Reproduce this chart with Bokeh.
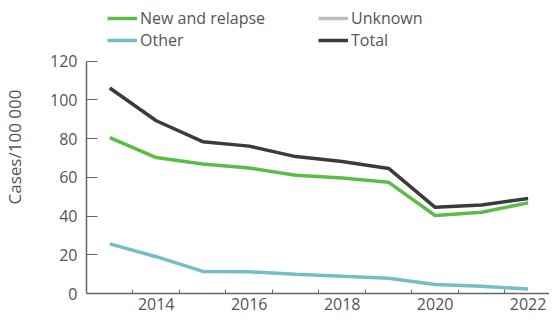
from bokeh.plotting import figure
from bokeh.models import Range1d, FixedTicker, Legend, LegendItem
from bokeh.embed import file_html
from bokeh.resources import INLINE

years = [2013, 2014, 2015, 2016, 2017, 2018, 2019, 2020, 2021, 2022]
new_relapse = [80.5, 70.2, 66.9, 64.8, 61.1, 59.7, 57.4, 40.3, 42.0, 46.8]
other = [25.6, 19.0, 11.4, 11.2, 10.0, 8.9, 7.9, 4.6, 3.7, 2.3]
unknown = [float("nan")] * 10  # not visible in the chart
total = [106.1, 89.2, 78.4, 76.1, 70.7, 68.2, 64.6, 44.5, 45.7, 49.1]
x_tick_labels = [2014, 2016, 2018, 2020, 2022]
y_ticks = [0, 20, 40, 60, 80, 100, 120]

FONT = "Open Sans"
TXT = "#555555"

p = figure(width=549, height=312, output_backend="svg", toolbar_location=None,
           x_range=Range1d(2012.5, 2022.46), y_range=Range1d(0, 151.3),
           min_border_left=0, min_border_right=0, min_border_top=0, min_border_bottom=0)
p.outline_line_color = None
p.grid.visible = False

c_green = "#5cbd46"
c_teal = "#72bfc4"
c_gray = "#bdbec0"
c_dark = "#3b3b3b"

r_new = p.line(years, new_relapse, line_color=c_green, line_width=3.5)
r_unk = p.line(years, unknown, line_color=c_gray, line_width=3.5)
r_oth = p.line(years, other, line_color=c_teal, line_width=3.5)
r_tot = p.line(years, total, line_color=c_dark, line_width=3.5)

# x axis
xa = p.xaxis[0]
xa.ticker = FixedTicker(ticks=x_tick_labels, minor_ticks=[y + 0.5 for y in years[:-1]])
xa.major_tick_in = 0
xa.major_tick_out = 0
xa.minor_tick_in = 4
xa.minor_tick_out = 0
xa.minor_tick_line_color = "#666666"
xa.axis_line_color = "#666666"
xa.axis_line_width = 1.5
xa.major_label_text_font = FONT
xa.major_label_text_font_size = "16px"
xa.major_label_text_color = TXT
xa.major_label_standoff = 4

ya = p.yaxis[0]
ya.ticker = FixedTicker(ticks=y_ticks)
ya.bounds = (0, 120)
ya.major_tick_in = 11
ya.major_tick_out = 0
ya.minor_tick_line_color = None
ya.major_tick_line_color = "#666666"
ya.axis_line_color = "#666666"
ya.axis_line_width = 1.5
ya.major_label_text_font = FONT
ya.major_label_text_font_size = "16px"
ya.major_label_text_color = TXT
ya.major_label_standoff = 9
ya.axis_label = "Cases/100 000"
ya.axis_label_text_font = FONT
ya.axis_label_text_font_size = "17px"
ya.axis_label_text_font_style = "normal"
ya.axis_label_text_color = TXT
ya.axis_label_standoff = 21

legend = Legend(items=[
    LegendItem(label="New and relapse", renderers=[r_new]),
    LegendItem(label="Other", renderers=[r_oth]),
    LegendItem(label="Unknown", renderers=[r_unk]),
    LegendItem(label="Total", renderers=[r_tot]),
], ncols=2)
legend.label_text_font = FONT
legend.label_text_font_size = "16px"
legend.label_text_color = TXT
legend.glyph_width = 30
legend.glyph_height = 18
legend.label_height = 18
legend.label_standoff = 3
legend.label_width = 178
legend.spacing = 0
legend.padding = 0
legend.margin = 0
legend.border_line_color = None
legend.background_fill_alpha = 0
legend.location = (21, 242)
p.add_layout(legend)

open("out.html", "w").write(file_html(p, INLINE))
